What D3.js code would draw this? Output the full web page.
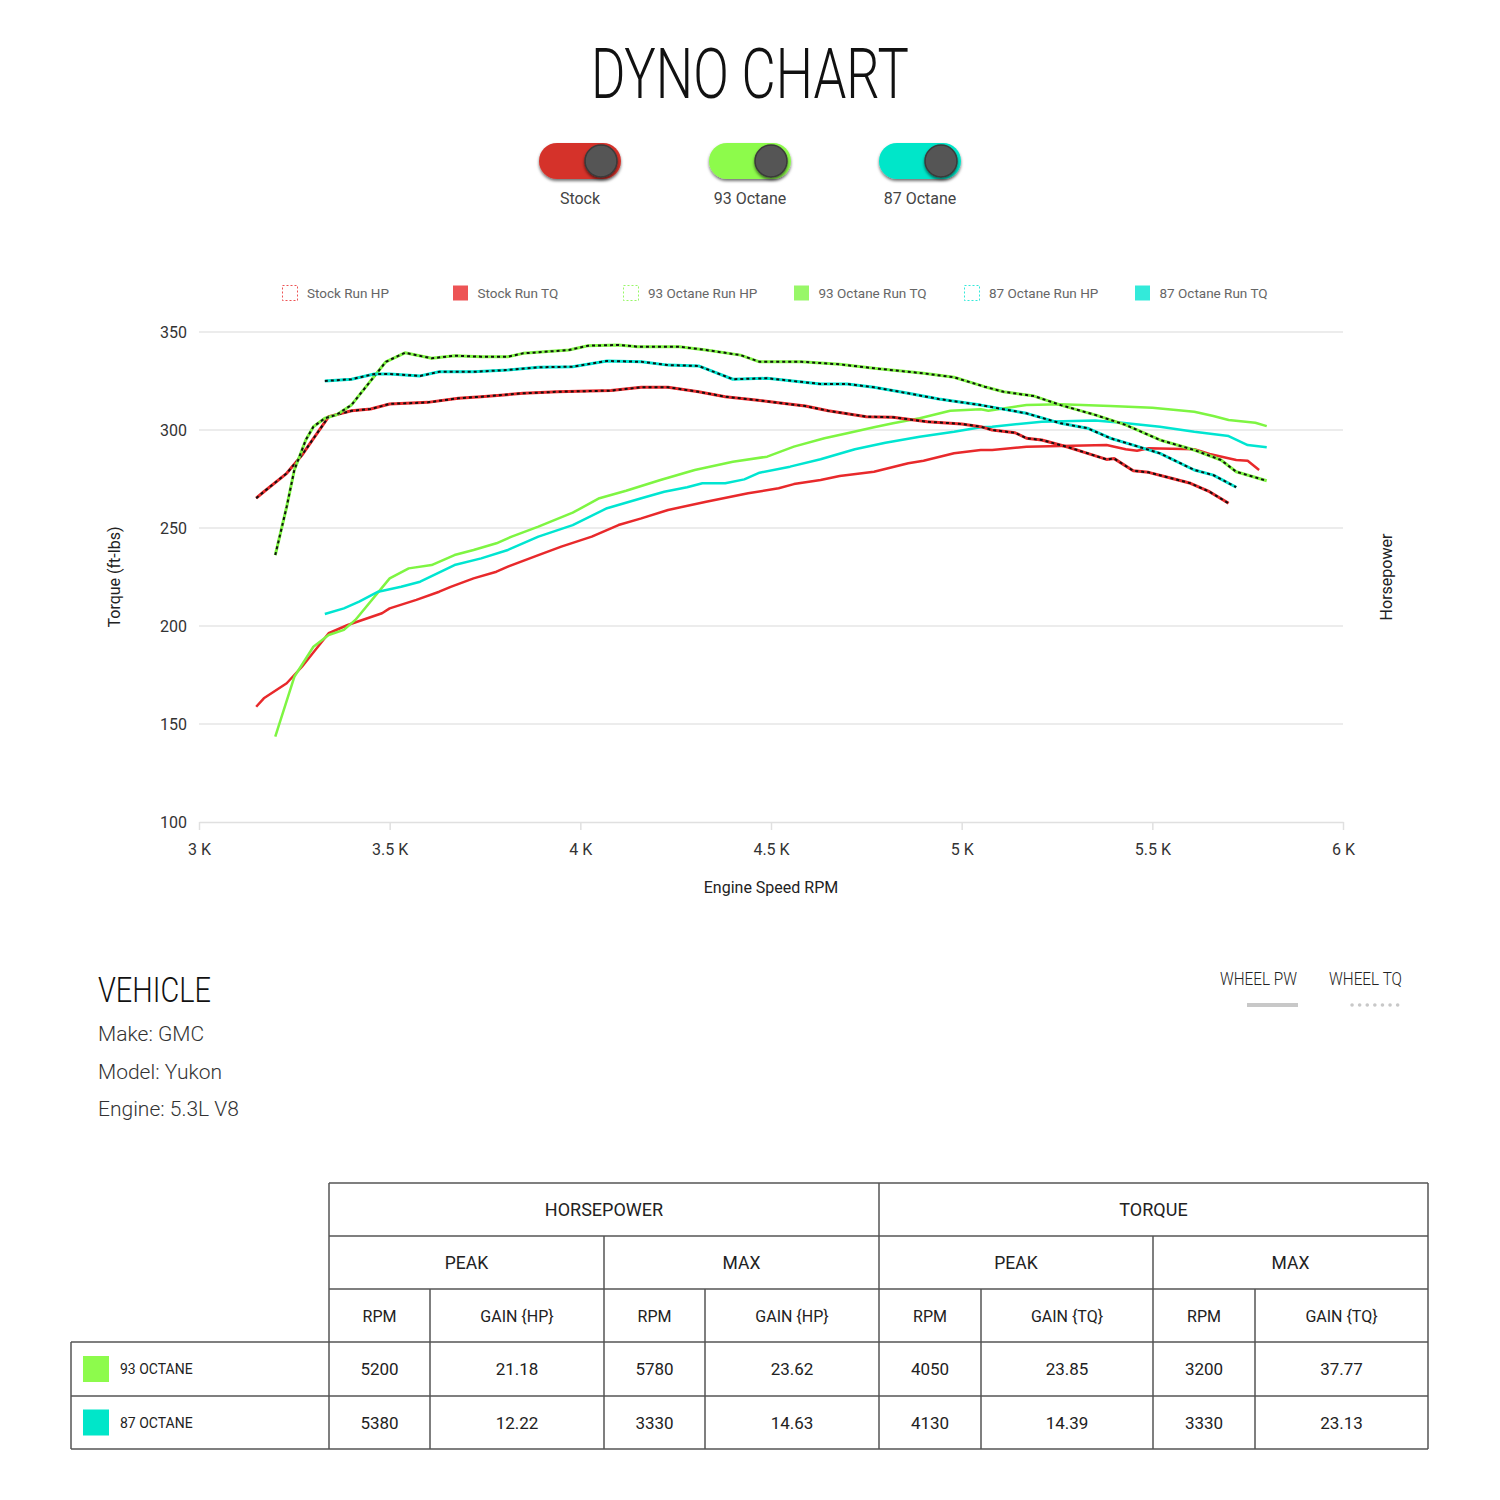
<!DOCTYPE html>
<html>
<head>
<meta charset="utf-8">
<script src="https://cdn.jsdelivr.net/npm/d3@7"></script>
<style>
  body { margin: 0; background: #fff; }
  svg { display: block; font-family: Roboto, "Noto Sans", sans-serif; }
</style>
</head>
<body>
<script>
// Series values: [rpm, value]
var stockHP = [[3150,265.2],[3170,268.5],[3230,277.9],[3270,287.2],[3340,306.8],[3400,309.8],[3450,310.7],[3500,313.3],[3600,314.1],[3680,316.2],[3740,317.0],[3850,318.7],[3940,319.5],[4080,320.1],[4160,321.8],[4230,321.8],[4310,319.5],[4380,317.0],[4460,315.3],[4530,313.6],[4590,312.2],[4650,309.8],[4750,306.8],[4820,306.5],[4910,304.2],[5000,303.1],[5050,301.7],[5080,300.0],[5140,298.6],[5170,295.8],[5210,294.9],[5280,291.2],[5330,288.1],[5380,285.0],[5400,285.4],[5450,279.2],[5490,278.4],[5550,275.4],[5600,272.8],[5650,268.5],[5700,262.6]];
var stockTQ = [[3150,158.8],[3170,163.1],[3230,170.8],[3270,179.2],[3340,196.3],[3390,200.5],[3480,206.5],[3500,209.0],[3570,213.3],[3630,217.5],[3660,220.0],[3720,224.3],[3780,227.7],[3810,230.3],[3890,236.2],[3950,240.5],[4030,245.6],[4100,251.5],[4160,254.9],[4230,259.2],[4330,263.4],[4440,267.7],[4520,270.3],[4560,272.4],[4630,274.5],[4680,276.5],[4770,278.7],[4860,283.0],[4900,284.3],[4980,288.1],[5050,289.8],[5080,289.8],[5170,291.5],[5260,291.8],[5380,292.3],[5430,290.2],[5460,289.4],[5490,290.7],[5610,290.2],[5650,287.8],[5720,284.7],[5750,284.3],[5780,279.6]];
var oct93HP = [[3200,236.2],[3230,260.9],[3250,279.6],[3280,294.9],[3300,301.7],[3330,306.0],[3360,307.7],[3400,312.8],[3490,334.8],[3540,339.4],[3610,336.6],[3670,337.9],[3740,337.4],[3810,337.4],[3850,339.1],[3970,340.8],[4020,343.0],[4100,343.4],[4150,342.5],[4260,342.5],[4330,340.8],[4420,338.2],[4470,334.8],[4580,334.8],[4680,333.5],[4770,331.5],[4900,328.9],[4980,326.9],[5060,322.1],[5110,319.5],[5190,317.3],[5260,312.7],[5350,307.7],[5430,302.6],[5520,294.9],[5610,289.8],[5680,284.7],[5720,278.7],[5800,274.1]];
var oct93TQ = [[3200,143.5],[3250,174.1],[3300,189.4],[3340,195.4],[3380,198.0],[3410,203.1],[3500,224.3],[3550,229.4],[3610,231.1],[3670,236.2],[3720,238.8],[3780,242.2],[3820,245.6],[3890,250.7],[3980,257.8],[4050,265.2],[4120,269.0],[4210,274.5],[4300,279.6],[4400,283.8],[4490,286.4],[4560,291.5],[4640,295.8],[4700,298.3],[4770,301.4],[4820,303.4],[4890,306.0],[4970,309.8],[5050,310.6],[5070,309.8],[5170,312.8],[5260,313.1],[5390,312.2],[5500,311.4],[5610,309.3],[5660,307.1],[5700,305.1],[5770,303.7],[5800,302.0]];
var oct87HP = [[3330,325.0],[3400,325.9],[3460,328.6],[3500,328.6],[3580,327.6],[3630,329.7],[3720,329.7],[3810,330.6],[3890,332.0],[3980,332.3],[4070,335.2],[4160,334.8],[4230,333.1],[4310,332.7],[4400,325.9],[4490,326.4],[4630,323.5],[4700,323.5],[4770,321.8],[4860,318.7],[4940,315.8],[5050,312.7],[5170,308.5],[5260,303.4],[5330,300.9],[5390,295.8],[5450,292.3],[5520,288.1],[5610,279.6],[5660,277.0],[5720,270.8]];
var oct87TQ = [[3330,206.1],[3380,209.0],[3420,212.4],[3470,217.5],[3530,220.0],[3580,222.6],[3670,231.1],[3740,234.5],[3810,238.8],[3890,245.6],[3980,251.5],[4070,260.1],[4160,265.2],[4220,268.5],[4280,270.8],[4320,272.8],[4380,272.8],[4430,274.8],[4470,278.2],[4550,281.3],[4630,285.1],[4720,290.2],[4800,293.5],[4890,296.6],[4980,299.1],[5050,301.4],[5080,301.7],[5210,304.2],[5350,304.8],[5420,303.7],[5520,301.7],[5610,299.1],[5700,296.9],[5750,292.3],[5800,291.2]];

// Axis ticks
var rpmTicks = [3000, 3500, 4000, 4500, 5000, 5500, 6000];
var tqTicks = [100, 150, 200, 250, 300, 350];

// Runs / toggles
var runNames = ["Stock", "93 Octane", "87 Octane"];
var toggleColors = ["#d5322c", "#8dfb4c", "#00e6c9"];
var lineColors = ["#e8292b", "#7ef542", "#00e5d1"];
var legendLabels = ["Stock Run HP", "Stock Run TQ", "93 Octane Run HP", "93 Octane Run TQ", "87 Octane Run HP", "87 Octane Run TQ"];

// Vehicle info
var vehicleLines = ["Make: GMC", "Model: Yukon", "Engine: 5.3L V8"];

// Table
var tableRuns = ["93 OCTANE", "87 OCTANE"];
var tableRunColors = ["#8dfb4c", "#00e6c9"];
var tableGroups = ["HORSEPOWER", "TORQUE"];
var tableSubGroups = ["PEAK", "MAX", "PEAK", "MAX"];
var tableCols = ["RPM", "GAIN {HP}", "RPM", "GAIN {HP}", "RPM", "GAIN {TQ}", "RPM", "GAIN {TQ}"];
var tableValues = [
  ["5200", "21.18", "5780", "23.62", "4050", "23.85", "3200", "37.77"],
  ["5380", "12.22", "3330", "14.63", "4130", "14.39", "3330", "23.13"]
];

var svg = d3.select("body").append("svg")
  .attr("width", 1500)
  .attr("height", 1500);

var defs = svg.append("defs");
var sh = defs.append("filter").attr("id", "shadow")
  .attr("x", "-30%").attr("y", "-30%").attr("width", "160%").attr("height", "180%");
sh.append("feDropShadow")
  .attr("dx", 0).attr("dy", 2).attr("stdDeviation", 1.6)
  .attr("flood-color", "#000").attr("flood-opacity", 0.55);

// Title
svg.append("text")
  .attr("x", 591).attr("y", 98)
  .attr("textLength", 318).attr("lengthAdjust", "spacingAndGlyphs")
  .style("font-size", "70px").style("font-weight", 300)
  .style("fill", "#111")
  .text("DYNO CHART");

// Toggles
var tg = svg.selectAll("g.toggle").data(runNames).enter().append("g")
  .attr("class", "toggle")
  .attr("transform", function (d, i) { return "translate(" + (580 + i * 170) + ",161)"; });
tg.append("rect")
  .attr("x", -41).attr("y", -18).attr("width", 82).attr("height", 36).attr("rx", 18)
  .attr("fill", function (d, i) { return toggleColors[i]; })
  .attr("filter", "url(#shadow)");
tg.append("circle")
  .attr("cx", 21).attr("cy", 0).attr("r", 16)
  .attr("fill", "#555").attr("stroke", "#3a3a3a").attr("stroke-width", 1.5)
  .attr("filter", "url(#shadow)");
tg.append("text")
  .attr("x", 0).attr("y", 43)
  .attr("text-anchor", "middle")
  .style("font-size", "16px").style("fill", "#444")
  .text(function (d) { return d; });

// Legend
var lg = svg.selectAll("g.legend").data(legendLabels).enter().append("g")
  .attr("class", "legend")
  .attr("transform", function (d, i) { return "translate(" + (282 + i * 170.5) + ",285)"; });
lg.append("rect")
  .attr("x", 0.5).attr("y", 0.5).attr("width", 15).attr("height", 15)
  .attr("fill", function (d, i) { return i % 2 ? lineColors[i >> 1] : "none"; })
  .attr("fill-opacity", 0.8)
  .attr("stroke", function (d, i) { return lineColors[i >> 1]; })
  .attr("stroke-opacity", function (d, i) { return i % 2 ? 0 : 0.8; })
  .attr("stroke-dasharray", "2,2");
lg.append("text")
  .attr("x", 25).attr("y", 13)
  .style("font-size", "13.5px").style("fill", "#666")
  .text(function (d) { return d; });

// Chart
var x = d3.scaleLinear().domain([3000, 6000]).range([199, 1343]);
var y = d3.scaleLinear().domain([100, 350]).range([822, 332]);

svg.append("g").selectAll("line").data(tqTicks.slice(1)).enter().append("line")
  .attr("x1", 199).attr("x2", 1343)
  .attr("y1", function (d) { return y(d); }).attr("y2", function (d) { return y(d); })
  .attr("stroke", "#e6e6e6").attr("stroke-width", 1.5);

var xAxis = svg.append("g")
  .attr("transform", "translate(0,822)")
  .call(d3.axisBottom(x).tickValues(rpmTicks).tickSize(8).tickSizeOuter(0).tickPadding(14)
    .tickFormat(function (d) { return (d / 1000) + " K"; }));
xAxis.select(".domain").attr("stroke", "#e0e0e0").attr("stroke-width", 1.5);
xAxis.selectAll(".tick line").attr("stroke", "#e0e0e0").attr("stroke-width", 1.5);
xAxis.selectAll(".tick text").style("font-size", "16px").style("fill", "#333")
  .style("font-family", "Roboto, sans-serif");

var yAxis = svg.append("g")
  .attr("transform", "translate(199,0)")
  .call(d3.axisLeft(y).tickValues(tqTicks).tickSize(0).tickPadding(12));
yAxis.select(".domain").remove();
yAxis.selectAll(".tick text").style("font-size", "16px").style("fill", "#333")
  .style("font-family", "Roboto, sans-serif");

svg.append("text")
  .attr("transform", "translate(120,577) rotate(-90)")
  .attr("text-anchor", "middle")
  .style("font-size", "16px").style("fill", "#222")
  .text("Torque (ft-lbs)");
svg.append("text")
  .attr("transform", "translate(1392,577) rotate(-90)")
  .attr("text-anchor", "middle")
  .style("font-size", "16px").style("fill", "#222")
  .text("Horsepower");
svg.append("text")
  .attr("x", 771).attr("y", 893)
  .attr("text-anchor", "middle")
  .style("font-size", "16px").style("fill", "#222")
  .text("Engine Speed RPM");

var line = d3.line()
  .x(function (d) { return x(d[0]); })
  .y(function (d) { return y(d[1]); });

var tqSeries = [stockTQ, oct93TQ, oct87TQ];
var hpSeries = [stockHP, oct93HP, oct87HP];

tqSeries.forEach(function (s, i) {
  svg.append("path").datum(s)
    .attr("d", line).attr("fill", "none")
    .attr("stroke", lineColors[i]).attr("stroke-width", 2.5)
    .attr("stroke-linejoin", "round");
});
hpSeries.forEach(function (s, i) {
  svg.append("path").datum(s)
    .attr("d", line).attr("fill", "none")
    .attr("stroke", lineColors[i]).attr("stroke-width", 3)
    .attr("stroke-linejoin", "round");
  svg.append("path").datum(s)
    .attr("d", line).attr("fill", "none")
    .attr("stroke", "#111").attr("stroke-width", 2)
    .attr("stroke-dasharray", "3,3");
});

// Vehicle block
svg.append("text")
  .attr("x", 98).attr("y", 1002)
  .attr("textLength", 113).attr("lengthAdjust", "spacingAndGlyphs")
  .style("font-size", "35px").style("font-weight", 300).style("fill", "#111")
  .text("VEHICLE");
svg.selectAll("text.vehicle").data(vehicleLines).enter().append("text")
  .attr("class", "vehicle")
  .attr("x", 98).attr("y", function (d, i) { return 1041 + i * 37.5; })
  .style("font-size", "21px").style("font-weight", 300).style("fill", "#333")
  .text(function (d) { return d; });

// Wheel PW / TQ key
svg.append("text")
  .attr("x", 1220).attr("y", 985)
  .attr("textLength", 77).attr("lengthAdjust", "spacingAndGlyphs")
  .style("font-size", "19px").style("font-weight", 300).style("fill", "#222")
  .text("WHEEL PW");
svg.append("text")
  .attr("x", 1329).attr("y", 985)
  .attr("textLength", 73).attr("lengthAdjust", "spacingAndGlyphs")
  .style("font-size", "19px").style("font-weight", 300).style("fill", "#222")
  .text("WHEEL TQ");
svg.append("line")
  .attr("x1", 1247).attr("x2", 1298).attr("y1", 1005).attr("y2", 1005)
  .attr("stroke", "#c8c8c8").attr("stroke-width", 4);
svg.append("line")
  .attr("x1", 1352).attr("x2", 1404).attr("y1", 1005).attr("y2", 1005)
  .attr("stroke", "#c8c8c8").attr("stroke-width", 3.5)
  .attr("stroke-linecap", "round")
  .attr("stroke-dasharray", "0.1,7.5");

// Table
var colX = [329, 430, 604, 705, 879, 981, 1153, 1255, 1428];
var rowY = [1183, 1236, 1289, 1342, 1396, 1449];
var tbl = svg.append("g").attr("stroke", "#555").attr("stroke-width", 1.5);

function hline(yy, x1, x2) {
  tbl.append("line").attr("x1", x1).attr("x2", x2).attr("y1", yy).attr("y2", yy);
}
function vline(xx, y1, y2) {
  tbl.append("line").attr("x1", xx).attr("x2", xx).attr("y1", y1).attr("y2", y2);
}
hline(rowY[0], colX[0], colX[8]);
hline(rowY[1], colX[0], colX[8]);
hline(rowY[2], colX[0], colX[8]);
hline(rowY[3], 71, colX[8]);
hline(rowY[4], 71, colX[8]);
hline(rowY[5], 71, colX[8]);
vline(71, rowY[3], rowY[5]);
[0, 4, 8].forEach(function (c) { vline(colX[c], rowY[0], rowY[5]); });
[2, 6].forEach(function (c) { vline(colX[c], rowY[1], rowY[5]); });
[1, 3, 5, 7].forEach(function (c) { vline(colX[c], rowY[2], rowY[5]); });

function cell(txt, x1, x2, r, size) {
  svg.append("text")
    .attr("x", (x1 + x2) / 2).attr("y", (rowY[r] + rowY[r + 1]) / 2 + 6)
    .attr("text-anchor", "middle")
    .style("font-size", (size || 17) + "px").style("fill", "#222")
    .text(txt);
}
tableGroups.forEach(function (g, i) { cell(g, colX[i * 4], colX[i * 4 + 4], 0, 18); });
tableSubGroups.forEach(function (g, i) { cell(g, colX[i * 2], colX[i * 2 + 2], 1, 17.5); });
tableCols.forEach(function (g, i) { cell(g, colX[i], colX[i + 1], 2, 16); });
tableValues.forEach(function (row, r) {
  row.forEach(function (v, c) { cell(v, colX[c], colX[c + 1], r + 3); });
  var cy = (rowY[r + 3] + rowY[r + 4]) / 2;
  svg.append("rect")
    .attr("x", 83).attr("y", cy - 13).attr("width", 26).attr("height", 26)
    .attr("fill", tableRunColors[r]);
  svg.append("text")
    .attr("x", 120).attr("y", cy + 5)
    .style("font-size", "14px").style("fill", "#222")
    .text(tableRuns[r]);
});
</script>
</body>
</html>
